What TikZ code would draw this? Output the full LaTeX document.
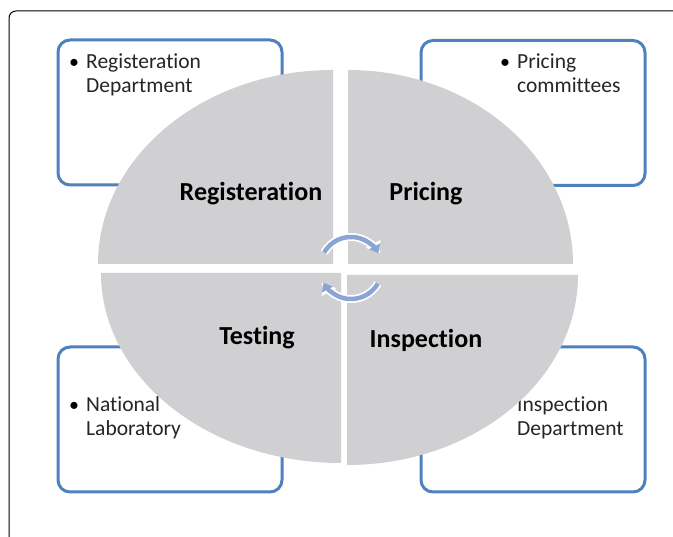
\documentclass[tikz,border=0pt]{standalone}
\usepackage{fontspec}
\setmainfont{Carlito}[Ligatures=NoCommon]
\usetikzlibrary{arrows.meta}
\definecolor{boxblue}{RGB}{79,129,189}
\definecolor{quadgray}{RGB}{208,208,211}
\definecolor{txtgray}{RGB}{38,38,38}
\definecolor{cycblue}{RGB}{140,164,212}
\begin{document}
\begin{tikzpicture}[x=1pt,y=1pt,
  infobox/.style={draw=boxblue, line width=3pt, rounded corners=12pt, fill=white,
    inner sep=0pt, minimum width=224pt, minimum height=145pt},
  itemtext/.style={anchor=base west, inner sep=0pt, text=txtgray,
    font=\fontsize{21.5}{24}\selectfont, align=left},
  bulletmark/.style={anchor=base west, inner sep=0pt, text=black,
    font=\fontsize{20}{24}\selectfont},
  quadrant/.style={fill=quadgray, draw=none},
  quadlabel/.style={anchor=base, inner sep=0pt, text=black,
    font=\fontsize{26}{30}\selectfont\bfseries},
  cycwhite/.style={draw=white, line width=8pt, -{Triangle[length=11pt,width=16pt]}},
  cycline/.style={draw=cycblue, line width=4.5pt, -{Triangle[length=8pt,width=12pt]}}]
\useasboundingbox (0,0) rectangle (673,537);
\clip (0,0) rectangle (673,537);

% outer frame, running off the right and bottom edges
\coordinate (frameBL) at (9,-10);
\coordinate (frameTR) at (690,526);
\draw[black, line width=1pt, rounded corners=7pt] (frameBL) |- (frameTR);

% four information boxes
\node[infobox] (regbox) at (170,424.5) {};
\node[infobox] (pricebox) at (533,424) {};
\node[infobox] (labbox) at (170,117.5) {};
\node[infobox] (inspbox) at (533,117.5) {};

% bullets sit on the first line; the text anchor is the last line's baseline
\node[bulletmark] (regdot) at (69,468) {•};
\node[itemtext] (regtext) at (86,444) {Registeration\\Department};
\node[bulletmark] (pricedot) at (500,468) {•};
\node[itemtext] (pricetext) at (517,444) {Pricing\\committees};
\node[bulletmark] (labdot) at (69,125) {•};
\node[itemtext] (labtext) at (86,101) {National\\Laboratory};
\node[bulletmark] (inspdot) at (500,125) {•};
\node[itemtext] (insptext) at (517,101) {Inspection\\Department};

% the four quarters of the cycle
\coordinate (qTL) at (333,273);
\coordinate (qTR) at (348,273);
\coordinate (qBL) at (341,264);
\coordinate (qBR) at (347,262);
\path[quadrant] (qTL) -- ++(-235,0) arc[start angle=180, end angle=90, x radius=235, y radius=194] -- cycle;
\path[quadrant] (qTR) -- ++(0,194) arc[start angle=90, end angle=0, x radius=225, y radius=194] -- cycle;
\path[quadrant] (qBL) -- ++(-240,0) arc[start angle=180, end angle=270, x radius=240, y radius=190] -- cycle;
\path[quadrant] (qBR) -- ++(0,-190) arc[start angle=270, end angle=360, x radius=231, y radius=190] -- cycle;

\node[quadlabel] (reglabel) at (251,336) {Registeration};
\node[quadlabel] (pricelabel) at (426,336) {Pricing};
\node[quadlabel] (testlabel) at (257,192) {Testing};
\node[quadlabel] (insplabel) at (426,189) {Inspection};

% circular arrows in the middle
\coordinate (cyc) at (351,269);
\draw[cycwhite] ([shift={(150:31)}]cyc) arc[start angle=150, end angle=28, radius=31];
\draw[cycwhite] ([shift={(-30:31)}]cyc) arc[start angle=-30, end angle=-152, radius=31];
\draw[cycline] ([shift={(150:31)}]cyc) arc[start angle=150, end angle=28, radius=31];
\draw[cycline] ([shift={(-30:31)}]cyc) arc[start angle=-30, end angle=-152, radius=31];
\end{tikzpicture}
\end{document}
